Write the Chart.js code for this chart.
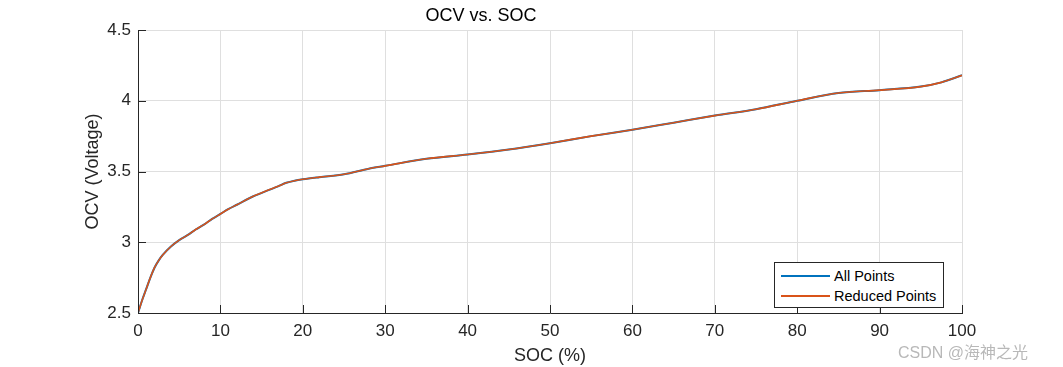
<!DOCTYPE html>
<html>
<head>
<meta charset="utf-8">
<script src="https://cdn.jsdelivr.net/npm/chart.js@4.4.1/dist/chart.umd.min.js"></script>
<style>
  html, body { margin: 0; padding: 0; background: #fff; }
  #wrap { position: relative; width: 1063px; height: 367px; }
  #legend {
    position: absolute; left: 774px; top: 262px; width: 168px; height: 44px;
    border: 1px solid #262626; background: #fff;
    font-family: "Liberation Sans", Arial, sans-serif; font-size: 14.5px; color: #000;
  }
  .row { position: absolute; left: 6px; height: 16px; display: flex; align-items: center; }
  .row span.ln { display: inline-block; width: 49px; height: 2px; margin-right: 4px; }
  #mark {
    position: absolute; left: 898px; top: 339px;
    font-family: "Liberation Sans", "Noto Sans CJK SC", sans-serif; font-size: 16px; color: #b8b8b8;
    white-space: nowrap;
  }
</style>
</head>
<body>
<div id="wrap">
  <canvas id="ocvChart" width="1063" height="367"></canvas>
  <div id="legend">
    <div class="row" style="top:5px"><span class="ln" style="background:#0072BD"></span>All Points</div>
    <div class="row" style="top:25px"><span class="ln" style="background:#D95319"></span>Reduced Points</div>
  </div>
  <div id="mark">CSDN @海神之光</div>
</div>
<script>
// -------------------------------
// DATA
// -------------------------------
const socValues = [0, 0.5, 1, 1.5, 2, 2.5, 3, 4, 5, 6, 7, 8, 9, 10, 11, 12, 14, 16, 17, 18, 19, 20, 22, 25, 28, 30, 35, 40, 45, 50, 55, 60, 65, 70, 75, 80, 85, 90, 95, 97.5, 100];
const ocvValues = [2.50, 2.59, 2.67, 2.75, 2.82, 2.87, 2.91, 2.97, 3.015, 3.05, 3.09, 3.125, 3.165, 3.20, 3.235, 3.265, 3.325, 3.372, 3.395, 3.42, 3.435, 3.445, 3.46, 3.48, 3.52, 3.54, 3.59, 3.62, 3.655, 3.70, 3.75, 3.795, 3.845, 3.895, 3.94, 4.0, 4.055, 4.075, 4.10, 4.13, 4.18];

const xTicks = [0, 10, 20, 30, 40, 50, 60, 70, 80, 90, 100];
const yTicks = [2.5, 3, 3.5, 4, 4.5];

const axisColor = "#262626";
const gridColor = "#dfdfdf";
const font = "'Liberation Sans', Arial, sans-serif";

const points = socValues.map((s, i) => ({ x: s, y: ocvValues[i] }));

// -------------------------------
// INWARD TICK MARKS (matlab style)
// -------------------------------
const inwardTicks = {
    id: "inwardTicks",
    afterDraw(chart) {
        const { ctx, chartArea, scales } = chart;
        ctx.save();
        ctx.strokeStyle = axisColor;
        ctx.lineWidth = 1;
        ctx.beginPath();
        xTicks.forEach(v => {
            const px = Math.round(scales.x.getPixelForValue(v)) + 0.5;
            ctx.moveTo(px, chartArea.bottom);
            ctx.lineTo(px, chartArea.bottom - 8);
        });
        yTicks.forEach(v => {
            const py = Math.round(scales.y.getPixelForValue(v)) + 0.5;
            ctx.moveTo(chartArea.left, py);
            ctx.lineTo(chartArea.left + 8, py);
        });
        ctx.stroke();
        ctx.restore();
    }
};

// -------------------------------
// CHART
// -------------------------------
new Chart(document.getElementById("ocvChart"), {
    type: "line",
    data: {
        datasets: [
            { label: "All Points", data: points, borderColor: "#0072BD", borderWidth: 2, pointRadius: 0, cubicInterpolationMode: "monotone", order: 2 },
            { label: "Reduced Points", data: points, borderColor: "#D95319", borderWidth: 1.6, pointRadius: 0, cubicInterpolationMode: "monotone", order: 1 }
        ]
    },
    options: {
        responsive: false,
        animation: false,
        layout: { padding: { left: 0, right: 101, top: 0, bottom: 0 } },
        plugins: {
            legend: { display: false },
            tooltip: { enabled: false },
            title: {
                display: true,
                text: "OCV vs. SOC",
                color: "#000",
                font: { family: font, size: 18, weight: "normal" },
                padding: { top: 5, bottom: 3.4 }
            }
        },
        scales: {
            x: {
                type: "linear",
                min: 0, max: 100,
                afterBuildTicks: s => { s.ticks = xTicks.map(v => ({ value: v })); },
                afterFit: s => { s.height = 54; },
                ticks: { color: axisColor, font: { family: font, size: 17 }, padding: 8, maxRotation: 0 },
                grid: { color: gridColor, drawTicks: false },
                border: { color: axisColor, width: 1 },
                title: { display: true, text: "SOC (%)", color: axisColor, font: { family: font, size: 18 }, padding: { top: 10, bottom: 0 } }
            },
            y: {
                min: 2.5, max: 4.5,
                afterBuildTicks: s => { s.ticks = yTicks.map(v => ({ value: v })); },
                afterFit: s => { s.width = 138; },
                ticks: { color: axisColor, font: { family: font, size: 17 }, padding: 7, callback: v => String(v) },
                grid: { color: gridColor, drawTicks: false },
                border: { color: axisColor, width: 1 },
                title: { display: true, text: "OCV (Voltage)", color: axisColor, font: { family: font, size: 18 }, padding: { top: 82, bottom: 0 } }
            }
        }
    },
    plugins: [inwardTicks]
});
</script>
</body>
</html>
